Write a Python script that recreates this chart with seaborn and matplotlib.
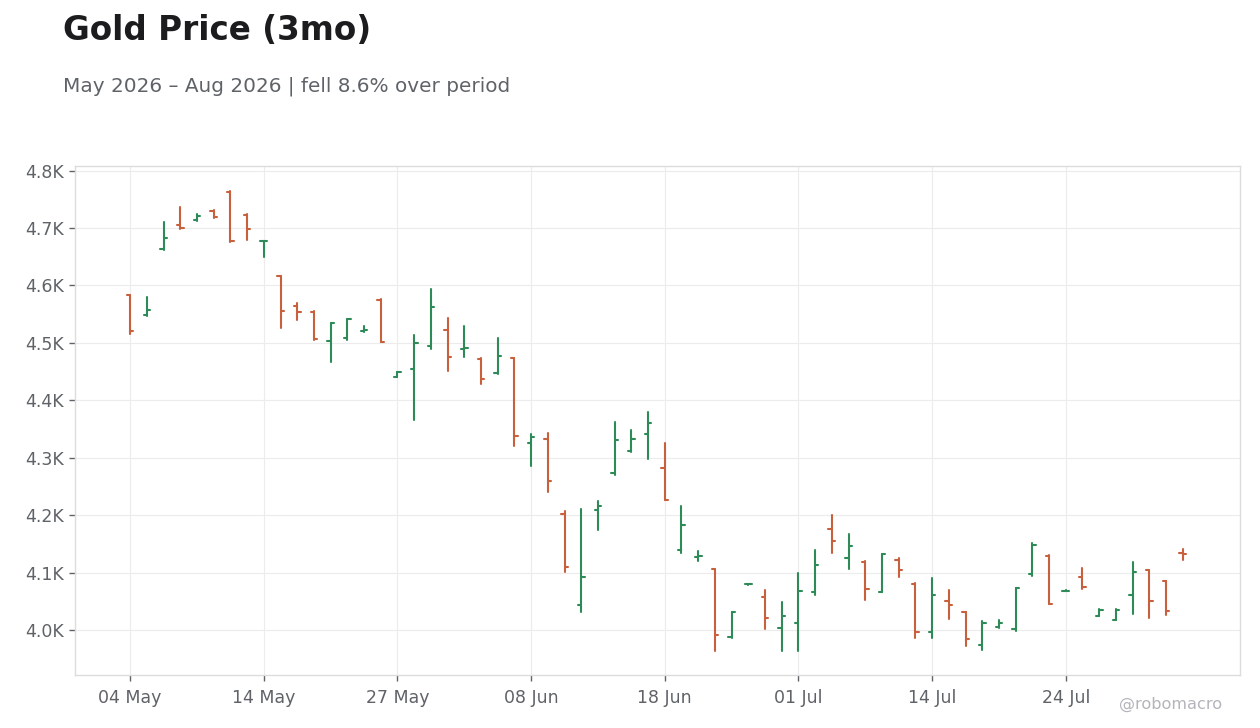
import matplotlib
matplotlib.use("Agg")
import matplotlib.pyplot as plt
import seaborn as sns
import pandas as pd
import numpy as np

# ---- data ----
dates = [
    "2026-05-04", "2026-05-05", "2026-05-06", "2026-05-07", "2026-05-08",
    "2026-05-11", "2026-05-12", "2026-05-13", "2026-05-14", "2026-05-15",
    "2026-05-18", "2026-05-19", "2026-05-20", "2026-05-21", "2026-05-22",
    "2026-05-26", "2026-05-27", "2026-05-28", "2026-05-29",
    "2026-06-01", "2026-06-02", "2026-06-03", "2026-06-04", "2026-06-05",
    "2026-06-08", "2026-06-09", "2026-06-10", "2026-06-11", "2026-06-12",
    "2026-06-15", "2026-06-16", "2026-06-17", "2026-06-18",
    "2026-06-22", "2026-06-23", "2026-06-24", "2026-06-25", "2026-06-26",
    "2026-06-29", "2026-06-30",
    "2026-07-01", "2026-07-02", "2026-07-06", "2026-07-07", "2026-07-08",
    "2026-07-09", "2026-07-10", "2026-07-13", "2026-07-14", "2026-07-15",
    "2026-07-16", "2026-07-17", "2026-07-20", "2026-07-21", "2026-07-22",
    "2026-07-23", "2026-07-24", "2026-07-27", "2026-07-28", "2026-07-29",
    "2026-07-30", "2026-07-31", "2026-08-03", "2026-08-04",
]
opens = [
    4583, 4548, 4663, 4705, 4714, 4730, 4762, 4723, 4677, 4616,
    4565, 4554, 4504, 4508, 4521, 4575, 4441, 4455, 4494, 4523,
    4490, 4472, 4447, 4473, 4325, 4333, 4202, 4044, 4210, 4273,
    4312, 4341, 4282, 4140, 4128, 4106, 3988, 4080, 4058, 4003,
    4013, 4067, 4177, 4126, 4118, 4067, 4123, 4081, 3996, 4050,
    4031, 3974, 4005, 4002, 4097, 4130, 4069, 4092, 4025, 4018,
    4062, 4104, 4085, 4135,
]
highs = [
    4584, 4580, 4711, 4736, 4724, 4731, 4765, 4724, 4678, 4617,
    4570, 4555, 4534, 4542, 4530, 4576, 4450, 4513, 4594, 4543,
    4530, 4473, 4509, 4474, 4341, 4344, 4208, 4211, 4225, 4362,
    4348, 4379, 4325, 4217, 4137, 4107, 4031, 4080.5, 4070, 4049,
    4100, 4140, 4201, 4168, 4120, 4132, 4125, 4082, 4091, 4070,
    4032, 4016, 4018, 4073, 4152, 4131, 4069.5, 4109, 4037, 4037,
    4119, 4105, 4086, 4142,
]
lows = [
    4515, 4547, 4662, 4699, 4713, 4718, 4676, 4680, 4650, 4526,
    4540, 4505, 4467, 4505, 4519, 4501, 4440, 4365, 4490, 4452,
    4476, 4428, 4446, 4321, 4286, 4241, 4101, 4031, 4174, 4271,
    4310, 4298, 4226, 4135, 4120, 3963, 3987, 4079.5, 4002, 3963,
    3963, 4062, 4135, 4107, 4053, 4066, 4092, 3986, 3987, 4020,
    3973, 3965, 4003, 3999, 4095, 4045, 4068.5, 4072, 4024, 4017,
    4028, 4022, 4027, 4123,
]
closes = [
    4520, 4557, 4682, 4700, 4721, 4719, 4677, 4698, 4677, 4556,
    4554, 4507, 4534, 4542, 4523, 4502, 4450, 4500, 4563, 4475,
    4491, 4437, 4477, 4338, 4337, 4260, 4110, 4092, 4217, 4331,
    4333, 4360, 4226, 4183, 4130, 3991, 4031, 4080, 4022, 4024,
    4069, 4114, 4156, 4146, 4071, 4132, 4105, 3997, 4062, 4044,
    3985, 4013, 4012, 4073, 4148, 4046, 4069, 4076, 4036, 4036,
    4101, 4050, 4034, 4132,
]
y_ticks = [4000, 4100, 4200, 4300, 4400, 4500, 4600, 4700, 4800]
y_tick_labels = ["4.0K", "4.1K", "4.2K", "4.3K", "4.4K", "4.5K", "4.6K", "4.7K", "4.8K"]
title = "Gold Price (3mo)"
subtitle = "May 2026 \u2013 Aug 2026 | fell 8.6% over period"

UP = "#2E8B57"
DOWN = "#C8603E"

df = pd.DataFrame({"date": pd.to_datetime(dates), "open": opens, "high": highs,
                   "low": lows, "close": closes})
df["idx"] = np.arange(len(df))
df["dir"] = np.where(df["close"] >= df["open"], "up", "down")

# build OHLC segments in long form
tick = 0.2
rows = []
for r in df.itertuples():
    rows += [(f"{r.idx}hl", r.dir, r.idx, r.low), (f"{r.idx}hl", r.dir, r.idx, r.high)]
    rows += [(f"{r.idx}o", r.dir, r.idx - tick, r.open), (f"{r.idx}o", r.dir, r.idx, r.open)]
    rows += [(f"{r.idx}c", r.dir, r.idx, r.close), (f"{r.idx}c", r.dir, r.idx + tick, r.close)]
segs = pd.DataFrame(rows, columns=["seg", "dir", "x", "y"])

sns.set_theme(style="whitegrid")
plt.rcParams["font.family"] = ["DejaVu Sans"]

fig = plt.figure(figsize=(12.6, 7.28), dpi=100)
fig.patch.set_facecolor("white")
ax = fig.add_axes([75 / 1260, 1 - 675 / 728, (1239.5 - 75) / 1260, (675 - 166) / 728])

sns.lineplot(data=segs, x="x", y="y", units="seg", hue="dir",
             palette={"up": UP, "down": DOWN}, estimator=None, sort=False,
             legend=False, linewidth=1.5, ax=ax)

ax.set_xlim(-3.3, 66.4)
ax.set_ylim(3922, 4808)
ax.set_yticks(y_ticks)
ax.set_yticklabels(y_tick_labels)
xt = list(range(0, len(df), 8))
ax.set_xticks(xt)
ax.set_xticklabels([df["date"][i].strftime("%d %b") for i in xt])
ax.set_xlabel("")
ax.set_ylabel("")

ax.set_facecolor("white")
ax.grid(True, color="#ececec", linewidth=0.8)
for s in ax.spines.values():
    s.set_color("#dcdcdc")
    s.set_linewidth(1.0)
ax.tick_params(axis="both", colors="#5f6368", labelsize=12.5, length=4, width=1,
               direction="out", left=True, bottom=True, pad=4)
ax.tick_params(axis="x", pad=6)
for lab in ax.get_xticklabels() + ax.get_yticklabels():
    lab.set_color("#5f6368")

fig.text(63 / 1260, 1 - 40 / 728, title, fontsize=23.5, fontweight="bold",
         color="#1c1c1e", ha="left", va="baseline")
fig.text(63 / 1260, 1 - 92 / 728, subtitle, fontsize=14.4, color="#5f6368",
         ha="left", va="baseline")
fig.text(1222 / 1260, 1 - 709 / 728, "@robomacro", fontsize=11.6, color="#b4b4bc",
         ha="right", va="baseline")

fig.savefig("out.png", dpi=100, facecolor="white")
